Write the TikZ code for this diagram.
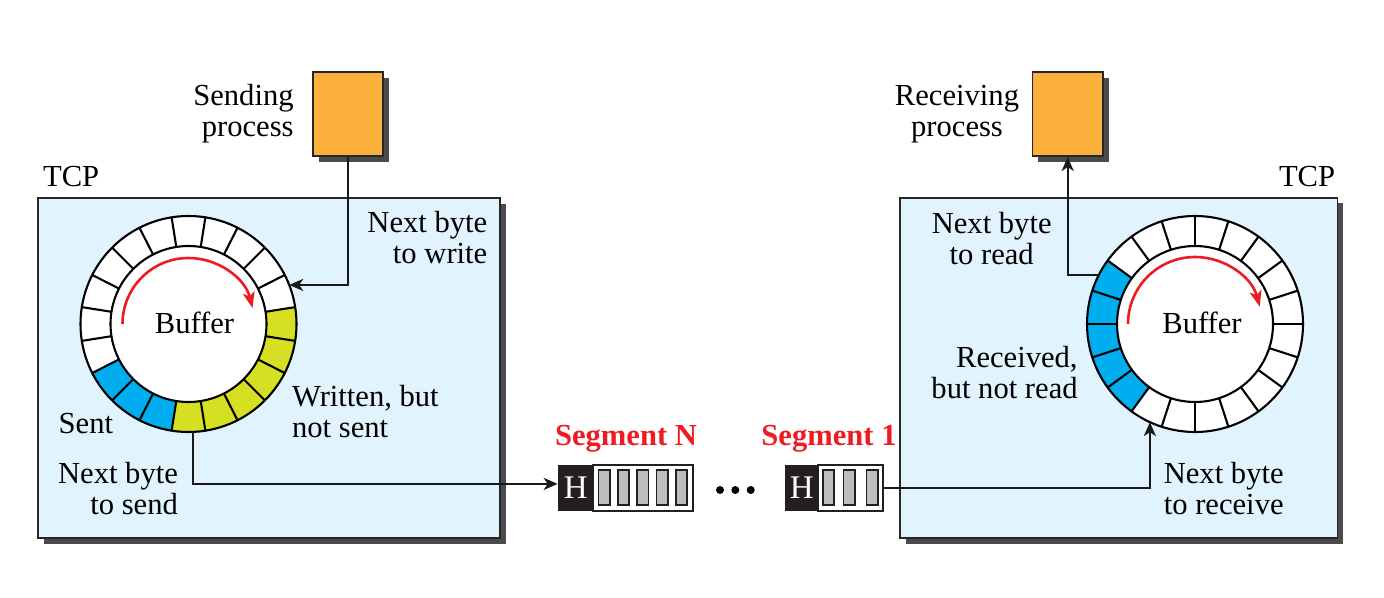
\documentclass[tikz,border=0pt]{standalone}
\usepackage{fontspec}
\setmainfont{Liberation Serif}
\usetikzlibrary{arrows.meta,shadows}
\definecolor{tcpfill}{RGB}{225,243,252}
\definecolor{procfill}{RGB}{251,176,59}
\definecolor{ygreen}{RGB}{215,223,35}
\definecolor{cellblue}{RGB}{0,174,239}
\definecolor{arrred}{RGB}{237,28,36}
\definecolor{shadowc}{RGB}{75,75,75}
\definecolor{bargray}{RGB}{188,190,192}
\definecolor{hblack}{RGB}{35,31,32}
\newcommand\fsz{\fontsize{15.3pt}{15.5pt}\selectfont}
\newcommand\lbl[2]{\begin{tabular}[t]{@{}#1@{}}#2\end{tabular}}
\begin{document}
\begin{tikzpicture}[x=0.5pt,y=-0.5pt,
  every node/.style={inner sep=0pt, font=\fsz},
  tcpbox/.style={draw=black!85, line width=0.9pt, fill=tcpfill,
    drop shadow={shadow xshift=2.8pt, shadow yshift=-2.8pt, fill=shadowc, opacity=1}},
  procbox/.style={draw=black!85, line width=0.9pt, fill=procfill,
    minimum width=35.3pt, minimum height=42.2pt,
    drop shadow={shadow xshift=3pt, shadow yshift=-3pt, fill=shadowc, opacity=1}},
  hbox/.style={fill=hblack, draw=hblack, line width=0.6pt, minimum height=22.8pt,
    text=white, font=\fontsize{16.5pt}{16.5pt}\selectfont},
  databox/.style={fill=white, draw=hblack, line width=1pt, minimum height=22.8pt},
  bar/.style={fill=bargray, draw=hblack, line width=0.8pt, minimum width=5.6pt, minimum height=17.5pt},
  conn/.style={draw=black!90, line width=1.2pt, -{Stealth[length=7pt,width=6pt,inset=2pt]}},
  redarr/.style={draw=arrred, line width=1.3pt, -{Stealth[length=8pt,width=6pt,inset=2pt]}},
  ringline/.style={draw=black, line width=1.05pt},
  seglbl/.style={text=arrred, font=\fsz\bfseries}
]
\useasboundingbox (0,0) rectangle (1384,598);
\fill[white] (0,0) rectangle (1384,598);

% TCP boxes
\node[tcpbox, minimum width=230.9pt, minimum height=170pt] (tcpL) at (269.2,368.3) {};
\node[tcpbox, minimum width=218.7pt, minimum height=170.3pt] (tcpR) at (1118.7,368) {};

% processes
\node[procbox] (sendP) at (348,113.9) {};
\node[procbox] (recvP) at (1067.7,113.9) {};

% left ring
\begin{scope}[shift={(188.5,324)}, x=0.5pt, y=0.5pt]
  \fill[white] (0,0) circle[radius=108];
  \fill[ygreen] (-99:78) arc[start angle=-99, end angle=9, radius=78]
     -- (9:108) arc[start angle=9, end angle=-99, radius=108] -- cycle;
  \fill[cellblue] (-153:78) arc[start angle=-153, end angle=-99, radius=78]
     -- (-99:108) arc[start angle=-99, end angle=-153, radius=108] -- cycle;
  \draw[ringline] (0,0) circle[radius=108] (0,0) circle[radius=78];
  \foreach \i in {0,...,19} \draw[ringline] ({9+18*\i}:78) -- ({9+18*\i}:108);
  \draw[redarr] (180:66) arc[start angle=180, end angle=14, radius=66];
  \coordinate (wr) at (21.2:108);
  \coordinate (snd) at (-87.6:108);
\end{scope}

% right ring
\begin{scope}[shift={(1195,324)}, x=0.5pt, y=0.5pt]
  \fill[white] (0,0) circle[radius=108];
  \fill[cellblue] (144:78) arc[start angle=144, end angle=234, radius=78]
     -- (234:108) arc[start angle=234, end angle=144, radius=108] -- cycle;
  \draw[ringline] (0,0) circle[radius=108] (0,0) circle[radius=78];
  \foreach \i in {0,...,19} \draw[ringline] ({18*\i}:78) -- ({18*\i}:108);
  \draw[redarr] (180:67) arc[start angle=180, end angle=15, radius=67];
  \coordinate (rd) at (153:108);
  \coordinate (rcv) at (-114.7:108);
\end{scope}

% segments
\node[hbox, minimum width=17.5pt] (segNH) at (575.8,487.9) {H};
\node[databox, minimum width=49.7pt] (segNB) at (643,487.9) {};
\foreach \x [count=\k] in {604.2,623.3,642.8,662.2,681.3}
  \node[bar] (segNb\k) at (\x,487.6) {};
\node[hbox, minimum width=16.6pt] (seg1H) at (801.7,487.9) {H};
\node[databox, minimum width=32.5pt] (seg1B) at (850.8,487.9) {};
\foreach \x [count=\k] in {828.5,849.2,872.2}
  \node[bar] (seg1b\k) at (\x,487.6) {};
\foreach \x [count=\k] in {720,735.3,750.7}
  \fill[black] (\x,490) circle[radius=4] coordinate (dot\k);

\node[seglbl, anchor=base] (segNl) at (626,445) {Segment N};
\node[seglbl, anchor=base] (seg1l) at (829,445) {Segment 1};

% labels
\node[anchor=base east] (sendL) at (294,106) {\lbl{r}{Sending\\process}};
\node[anchor=base] (recvL) at (957,106) {\lbl{c}{Receiving\\process}};
\node[anchor=base west] (tcpLl) at (42.7,186.7) {TCP};
\node[anchor=base east] (tcpRl) at (1335.5,186.7) {TCP};
\node[anchor=base east] (wrL) at (487.7,232.7) {\lbl{r}{Next byte\\to write}};
\node[anchor=base west] (wnsL) at (291.7,406.7) {\lbl{l}{Written, but\\not sent}};
\node[anchor=base west] (sentL) at (58.3,433.3) {Sent};
\node[anchor=base east] (sndL) at (178.3,483.3) {\lbl{r}{Next byte\\to send}};
\node[anchor=base] (bufL) at (194.5,333.3) {Buffer};
\node[anchor=base] (rdL) at (991.7,233.3) {\lbl{c}{Next byte\\to read}};
\node[anchor=base east] (rnrL) at (1078,367.3) {\lbl{r}{Received,\\but not read}};
\node[anchor=base] (rcvL) at (1223.7,483.3) {\lbl{c}{Next byte\\to receive}};
\node[anchor=base] (bufR) at (1202,333.3) {Buffer};

% connectors
\draw[conn] (sendP.south) |- (wr);
\draw[conn] (snd) |- ([yshift=2pt]segNH.west);
\draw[conn] (seg1B.east) -| (rcv);
\draw[conn] (rd) -| (recvP.south);
\end{tikzpicture}
\end{document}
